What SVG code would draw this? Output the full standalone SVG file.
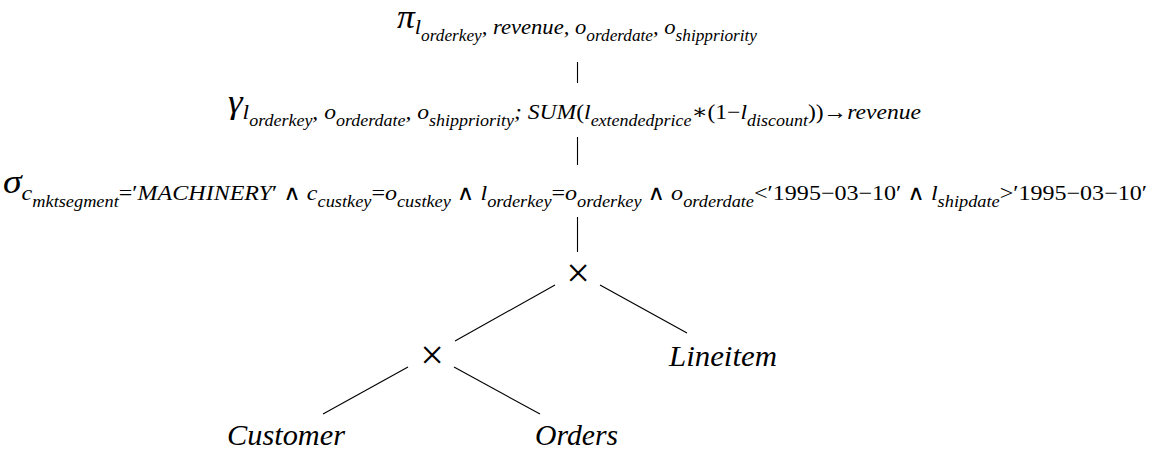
<svg xmlns="http://www.w3.org/2000/svg" width="1151" height="450" viewBox="0 0 1151 450">
<style>
text{font-family:"Liberation Serif","DejaVu Serif",serif;fill:#000;font-style:italic}
.g{font-size:33px}
.s1{font-size:21px}
.s2{font-size:16px}
.up{font-style:normal}
.lbl{font-size:29px}
.x{font-size:42px;font-style:normal;text-anchor:middle}
.e{stroke:#000;stroke-width:1.1;fill:none}
</style>
<rect width="1151" height="450" fill="#fff"/>
<g id="connectors">
<line class="e" x1="577.5" y1="62" x2="577.5" y2="83"/>
<line class="e" x1="577.5" y1="137" x2="577.5" y2="165"/>
<line class="e" x1="577.5" y1="217" x2="577.5" y2="252"/>
<line class="e" x1="555" y1="285" x2="455" y2="341"/>
<line class="e" x1="600" y1="285" x2="687" y2="333"/>
<line class="e" x1="408" y1="367" x2="323" y2="414"/>
<line class="e" x1="454" y1="367" x2="540" y2="414"/>
</g>
<g id="n-pi">
<text x="397" textLength="360" lengthAdjust="spacingAndGlyphs"><tspan class="g" y="28">π</tspan><tspan class="s1" y="34">l</tspan><tspan class="s2" y="41">orderkey</tspan><tspan class="s1" y="34">, revenue, o</tspan><tspan class="s2" y="41">orderdate</tspan><tspan class="s1" y="34">, o</tspan><tspan class="s2" y="41">shippriority</tspan></text>
</g>
<g id="n-gamma">
<text x="228" textLength="693" lengthAdjust="spacingAndGlyphs"><tspan class="g" y="113">γ</tspan><tspan class="s1" y="119">l</tspan><tspan class="s2" y="126">orderkey</tspan><tspan class="s1" y="119">, o</tspan><tspan class="s2" y="126">orderdate</tspan><tspan class="s1" y="119">, o</tspan><tspan class="s2" y="126">shippriority</tspan><tspan class="s1" y="119">;  SUM</tspan><tspan class="s1 up" y="119">(</tspan><tspan class="s1" y="119">l</tspan><tspan class="s2" y="126">extendedprice</tspan><tspan class="s1 up" y="119">∗(1−</tspan><tspan class="s1" y="119">l</tspan><tspan class="s2" y="126">discount</tspan><tspan class="s1 up" y="119">))→</tspan><tspan class="s1" y="119">revenue</tspan></text>
</g>
<g id="n-sigma">
<text x="3" textLength="1144" lengthAdjust="spacingAndGlyphs"><tspan class="g" y="193">σ</tspan><tspan class="s1" y="200">c</tspan><tspan class="s2" y="207">mktsegment</tspan><tspan class="s1 up" y="200">=′</tspan><tspan class="s1" y="200">MACHINERY</tspan><tspan class="s1 up" y="200">′ ∧ </tspan><tspan class="s1" y="200">c</tspan><tspan class="s2" y="207">custkey</tspan><tspan class="s1 up" y="200">=</tspan><tspan class="s1" y="200">o</tspan><tspan class="s2" y="207">custkey</tspan><tspan class="s1 up" y="200"> ∧ </tspan><tspan class="s1" y="200">l</tspan><tspan class="s2" y="207">orderkey</tspan><tspan class="s1 up" y="200">=</tspan><tspan class="s1" y="200">o</tspan><tspan class="s2" y="207">orderkey</tspan><tspan class="s1 up" y="200"> ∧ </tspan><tspan class="s1" y="200">o</tspan><tspan class="s2" y="207">orderdate</tspan><tspan class="s1 up" y="200">&lt;′1995−03−10′ ∧ </tspan><tspan class="s1" y="200">l</tspan><tspan class="s2" y="207">shipdate</tspan><tspan class="s1 up" y="200">&gt;′1995−03−10′</tspan></text>
</g>
<g id="n-cross1"><text class="x" x="578" y="287">×</text></g>
<g id="n-cross2"><text class="x" x="432" y="369">×</text></g>
<g id="n-lineitem"><text class="lbl" x="669" y="366" textLength="108" lengthAdjust="spacingAndGlyphs">Lineitem</text></g>
<g id="n-customer"><text class="lbl" x="227" y="445" textLength="118" lengthAdjust="spacingAndGlyphs">Customer</text></g>
<g id="n-orders"><text class="lbl" x="535" y="445" textLength="83" lengthAdjust="spacingAndGlyphs">Orders</text></g>
</svg>
